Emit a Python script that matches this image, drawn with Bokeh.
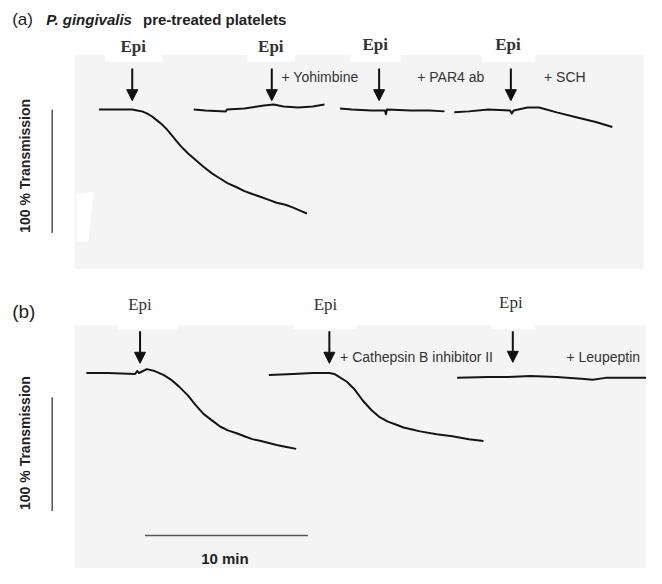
from bokeh.plotting import figure
from bokeh.models import Range1d, Arrow, NormalHead, ColumnDataSource
from bokeh.core.properties import value
from bokeh.embed import file_html
from bokeh.resources import INLINE

# ---- traces (reference pixel coordinates) ----
a1_x = [101, 120, 135, 140, 145, 150, 155, 160, 165, 170, 175, 180, 185, 192, 200, 208,
        217, 225, 233, 242, 250, 258, 267, 275, 283, 292, 300, 307, 314]
a1_y = [112, 112, 112, 113, 114, 116, 119, 123, 127, 132, 138, 144, 150, 157, 164, 171,
        178, 183, 188, 192, 196, 199, 202, 205, 208, 210, 213, 216, 219]
a2_x = [198, 210, 231, 232, 250, 270, 280, 290, 305, 320, 332]
a2_y = [112, 113, 114, 112, 111, 108, 107, 109, 110, 109, 107]
a3_x = [348, 360, 380, 394, 395, 396, 420, 440, 455]
a3_y = [111, 112, 113, 113, 117, 112, 113, 113, 114]
a4_x = [465, 480, 500, 522, 524, 526, 540, 552, 570, 590, 610, 627]
a4_y = [115, 114, 112, 113, 116, 113, 110, 110, 115, 120, 125, 130]

b1_x = [88, 110, 138, 140, 142, 150, 158, 167, 175, 183, 192, 200, 208, 217, 225, 233,
        242, 250, 258, 267, 275, 283, 293, 303]
b1_y = [383, 383, 384, 381, 383, 379, 381, 385, 390, 397, 406, 416, 425, 432, 438, 442,
        445, 448, 451, 453, 455, 457, 459, 461]
b2_x = [275, 300, 320, 337, 342, 347, 355, 363, 371, 380, 388, 397, 405, 413, 422, 430,
        447, 463, 480, 495]
b2_y = [385, 384, 383, 383, 384, 387, 392, 400, 411, 421, 428, 433, 436, 439, 441, 443,
        446, 448, 451, 453]
b3_x = [468, 500, 520, 543, 570, 595, 607, 620, 662]
b3_y = [388, 387, 387, 386, 387, 389, 390, 388, 388]

# ---- agonist arrows and labels ----
epi_x = [135, 278, 388, 523, 143, 337, 525]
epi_top = [70, 70, 70, 70, 340, 340, 340]
epi_tip = [103, 103, 103, 103, 373, 373, 372]
epi_lab_x = [136, 277, 384, 520, 143, 333, 523]
epi_lab_y = [47, 47, 45, 45, 313, 313, 310]
epi_bold = ["bold"] * 4 + ["normal"] * 3

treat_lab = ["+ Yohimbine", "+ PAR4 ab", "+ SCH", "+ Cathepsin B inhibitor II", "+ Leupeptin"]
treat_x = [288, 427, 557, 348, 580]
treat_y = [79, 79, 79, 367, 367]

# ---- panels (background) ----
panel_l = [76, 76]
panel_r = [659, 662]
panel_t = [56, 334]
panel_b = [276, 584]
box_l = [107, 253, 358, 493, 120, 300, 503]
box_r = [166, 302, 410, 548, 182, 365, 548]
box_t = [56, 56, 56, 56, 334, 334, 334]
box_b = [63, 63, 63, 63, 338, 338, 338]
blob_x = [78, 96, 93, 90, 78]
blob_y = [200, 196, 220, 248, 248]

# ---- scale bars ----
vbar_x = [53, 53]
vbar_top = [112, 408]
vbar_bot = [239, 525]
ylab_y = [170, 455]
hbar_x0, hbar_x1, hbar_y = 148, 315, 550

p = figure(width=646, height=568, x_range=Range1d(0, 662), y_range=Range1d(584, 0),
           output_backend="svg", toolbar_location=None, min_border=0)
p.axis.visible = False
p.grid.visible = False
p.outline_line_color = None
p.background_fill_color = "white"

p.quad(left=panel_l, right=panel_r, top=panel_t, bottom=panel_b,
       fill_color="#f4f4f4", line_color=None)
p.quad(left=box_l, right=box_r, top=box_t, bottom=box_b,
       fill_color="white", line_color=None)
p.patch(blob_x, blob_y, fill_color="white", line_color=None)

for xs, ys in [(a1_x, a1_y), (a2_x, a2_y), (a3_x, a3_y), (a4_x, a4_y),
               (b1_x, b1_y), (b2_x, b2_y), (b3_x, b3_y)]:
    p.line(xs, ys, line_color="#151515", line_width=2, line_join="round")

arr_src = ColumnDataSource(dict(x0=epi_x, y0=epi_top, x1=epi_x, y1=epi_tip))
p.add_layout(Arrow(source=arr_src, x_start="x0", y_start="y0", x_end="x1", y_end="y1",
                   line_width=2, line_color="#111111",
                   end=NormalHead(size=11, fill_color="#111111", line_color="#111111")))

epi_src = ColumnDataSource(dict(x=epi_lab_x, y=epi_lab_y, t=["Epi"] * 7, s=epi_bold))
p.text(x="x", y="y", text="t", source=epi_src, text_font=value("Liberation Serif"),
       text_font_size="17px", text_font_style="s", text_align="center",
       text_baseline="middle", text_color="#333333")

p.text(x=treat_x, y=treat_y, text=treat_lab, text_font=value("Liberation Sans"),
       text_font_size="14px", text_align="left", text_baseline="middle",
       text_color="#333333")

# title pieces
p.text(x=[12], y=[20], text=["(a)"], text_font=value("Liberation Sans"),
       text_font_size="17px", text_baseline="middle", text_color="#222222")
p.text(x=[47], y=[20], text=["P. gingivalis"], text_font=value("Liberation Sans"),
       text_font_size="15px", text_font_style="bold italic", text_baseline="middle",
       text_color="#222222")
p.text(x=[146], y=[20], text=["pre-treated platelets"], text_font=value("Liberation Sans"),
       text_font_size="15px", text_font_style="bold", text_baseline="middle",
       text_color="#222222")
p.text(x=[12], y=[320], text=["(b)"], text_font=value("Liberation Sans"),
       text_font_size="19px", text_baseline="middle", text_color="#222222")

# y scale
p.segment(x0=vbar_x, y0=vbar_top, x1=vbar_x, y1=vbar_bot, line_color="#555555", line_width=1.5)
p.text(x=[25, 25], y=ylab_y, text=["100 % Transmission"] * 2,
       text_font=value("Liberation Sans"), text_font_size="14px", text_font_style="bold",
       angle=1.5708, text_align="center", text_baseline="middle", text_color="#222222")

# time scale
p.segment(x0=[hbar_x0], y0=[hbar_y], x1=[hbar_x1], y1=[hbar_y], line_color="#555555", line_width=1.5)
p.text(x=[230], y=[574], text=["10 min"], text_font=value("Liberation Sans"),
       text_font_size="15px", text_font_style="bold", text_align="center",
       text_baseline="middle", text_color="#222222")

open("out.html", "w").write(file_html(p, INLINE))
